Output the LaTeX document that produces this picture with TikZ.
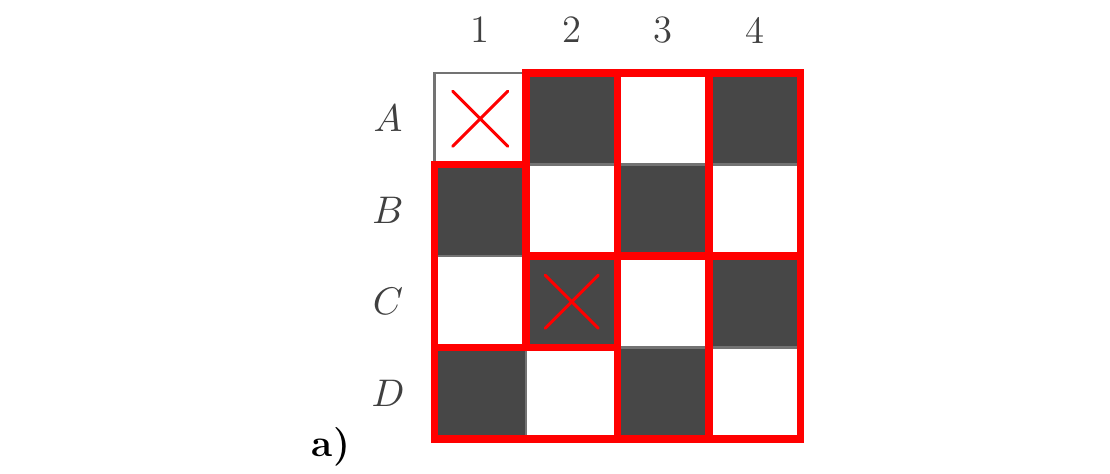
\documentclass[tikz,border=0pt]{standalone}
\usetikzlibrary{positioning}
\definecolor{tilecol}{HTML}{474747}
\definecolor{markred}{HTML}{FF0000}
\begin{document}
\begin{tikzpicture}[
    cell/.style={draw=black!55,line width=0.7pt,minimum size=0.915cm,inner sep=0pt,outer sep=0pt},
    darkcell/.style={cell,fill=tilecol},
    lightcell/.style={cell,fill=white},
    domino/.style={draw=markred,line width=2pt},
    cross/.style={draw=markred,line width=0.9pt,line cap=round},
    lbl/.style={font=\fontsize{11}{13}\selectfont,text=black!75}]
    \useasboundingbox (0,0) rectangle (11.1,-4.74);
    \foreach \r [count=\i] in {A,B,C,D}{
      \node[lbl] (row\r) at (3.88,{-0.73-(\i-0.5)*0.915}) {$\r$};
      \foreach \c in {1,...,4}{
        \pgfmathparse{int(mod(\i+\c,2))}
        \ifnum\pgfmathresult=1 \def\kind{darkcell}\else\def\kind{lightcell}\fi
        \node[\kind] (\r\c) at ({4.345+(\c-0.5)*0.915},{-0.73-(\i-0.5)*0.915}) {};
      }
    }
    \foreach \c in {1,...,4}
      \node[lbl] (col\c) at ({4.345+(\c-0.5)*0.915},-0.30) {\c};
    % dominoes
    \draw[domino](A2.north west) rectangle (B2.south east);
    \draw[domino](A3.north west) rectangle (B3.south east);
    \draw[domino](A4.north west) rectangle (B4.south east);
    \draw[domino](B1.north west) rectangle (C1.south east);
    \draw[domino](C3.north west) rectangle (D3.south east);
    \draw[domino](C4.north west) rectangle (D4.south east);
    \draw[domino](D1.north west) rectangle (D2.south east);
    % removed squares
    \draw[cross](A1) ++(-0.275,-0.275) -- ++(0.55,0.55) (A1) ++(-0.275,0.275) -- ++(0.55,-0.55);
    \draw[cross](C2) ++(-0.265,-0.265) -- ++(0.53,0.53) (C2) ++(-0.265,0.265) -- ++(0.53,-0.53);
    \node[font=\fontsize{11}{13}\selectfont\bfseries] (tag) at (3.31,-4.47) {a)};
\end{tikzpicture}
\end{document}
